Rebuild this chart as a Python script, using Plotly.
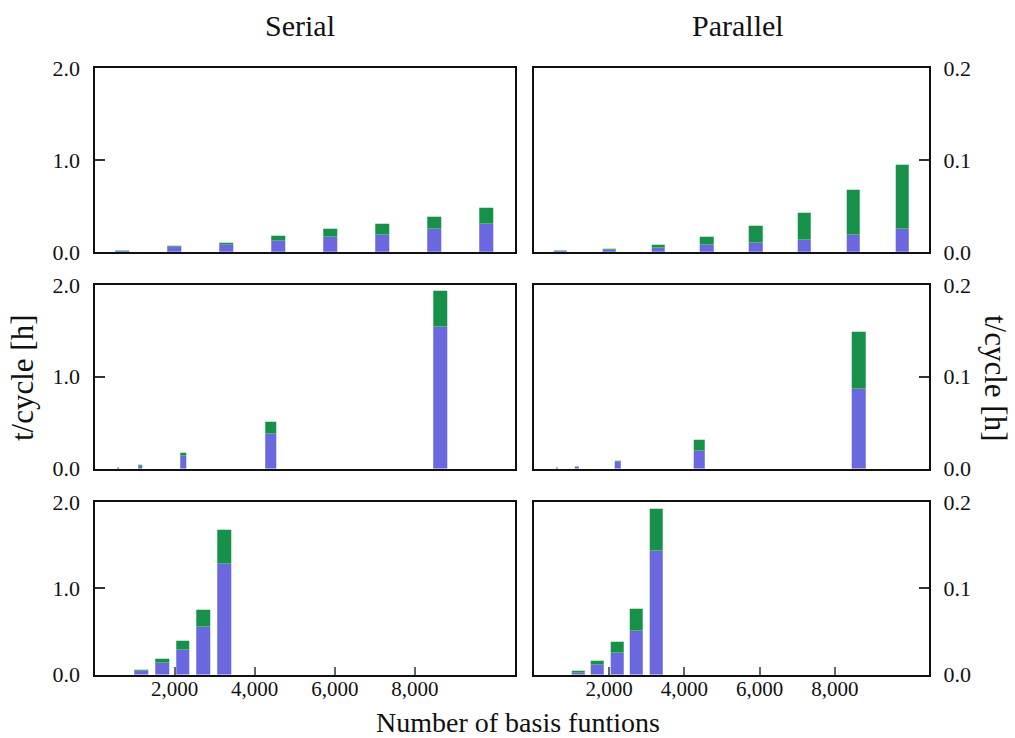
import plotly.graph_objects as go

# ---------------- data ----------------
x_top = [700, 2000, 3300, 4600, 5900, 7200, 8500, 9800]
x_mid = [600, 1150, 2230, 4400, 8640]
w_mid = [55, 95, 155, 280, 350]
x_bot = [1170, 1690, 2210, 2730, 3250]

serial_top_blue = [0.01, 0.05, 0.08, 0.12, 0.16, 0.19, 0.245, 0.30]
serial_top_green = [0.002, 0.015, 0.02, 0.05, 0.085, 0.11, 0.14, 0.18]
parallel_top_blue = [0.0008, 0.0024, 0.0046, 0.0074, 0.0103, 0.0128, 0.018, 0.0245]
parallel_top_green = [0.0002, 0.0011, 0.0028, 0.0084, 0.0177, 0.0292, 0.049, 0.0705]

serial_mid_blue = [0.005, 0.03, 0.131, 0.38, 1.545]
serial_mid_green = [0.001, 0.006, 0.033, 0.13, 0.395]
parallel_mid_blue = [0.0004, 0.0015, 0.0066, 0.0186, 0.0867]
parallel_mid_green = [0.0001, 0.0005, 0.0021, 0.012, 0.062]

serial_bot_blue = [0.038, 0.135, 0.286, 0.55, 1.286]
serial_bot_green = [0.012, 0.039, 0.104, 0.20, 0.384]
parallel_bot_blue = [0.0023, 0.0109, 0.0245, 0.05, 0.1436]
parallel_bot_green = [0.0012, 0.0043, 0.0135, 0.0255, 0.0478]

x_ticks = [2000, 4000, 6000, 8000]
x_ticklabels = ["2,000", "4,000", "6,000", "8,000"]
left_ticks = [0, 1.0, 2.0]
right_ticks = [0, 0.1, 0.2]

BLUE = "#6B68DF"
GREEN = "#17904A"
FONT = "Liberation Serif"

W, H = 1015, 738
def fx(px):
    return px / W
def fy(py):
    return 1 - py / H

col_dom = [[fx(94.5), fx(515)], [fx(534), fx(929)]]
row_dom = [[fy(252), fy(68)], [fy(468.5), fy(285)], [fy(674.5), fy(502)]]

panels = [
    (0, 0, x_top, 350, serial_top_blue, serial_top_green),
    (0, 1, x_top, 350, parallel_top_blue, parallel_top_green),
    (1, 0, x_mid, w_mid, serial_mid_blue, serial_mid_green),
    (1, 1, x_mid, w_mid, parallel_mid_blue, parallel_mid_green),
    (2, 0, x_bot, 345, serial_bot_blue, serial_bot_green),
    (2, 1, x_bot, 345, parallel_bot_blue, parallel_bot_green),
]

fig = go.Figure()
layout = {}
for i, (r, c, xs, w, b, g) in enumerate(panels):
    n = i + 1
    xa = "x" if n == 1 else f"x{n}"
    ya = "y" if n == 1 else f"y{n}"
    xk = "xaxis" if n == 1 else f"xaxis{n}"
    yk = "yaxis" if n == 1 else f"yaxis{n}"
    fig.add_trace(go.Bar(x=xs, y=b, width=w,
                         marker=dict(color=BLUE, line=dict(width=0.6, color="rgba(170,175,245,0.9)")),
                         xaxis=xa, yaxis=ya, showlegend=False))
    fig.add_trace(go.Bar(x=xs, y=g, width=w,
                         marker=dict(color=GREEN, line=dict(width=0.6, color="rgba(140,200,160,0.9)")),
                         xaxis=xa, yaxis=ya, showlegend=False))
    bottom = (r == 2)
    layout[xk] = dict(
        domain=col_dom[c], anchor=ya, range=[0, 10500], automargin=False,
        showline=True, linecolor="#111", linewidth=2, mirror=True,
        showgrid=False, zeroline=False,
        tickmode="array", tickvals=x_ticks if bottom else [],
        ticktext=x_ticklabels if bottom else [],
        ticks="inside" if bottom else "", ticklen=8, tickwidth=1.5, tickcolor="#666",
        showticklabels=bottom, ticklabelstandoff=-6,
        tickfont=dict(family=FONT, size=21, color="#111"),
    )
    common_y = dict(
        domain=row_dom[r], anchor=xa, automargin=False,
        tickmode="array", tickformat=".1f",
        ticks="inside", ticklen=10, tickwidth=2, tickcolor="#333",
        showline=True, linecolor="#111", linewidth=2, mirror=True,
        showgrid=False, zeroline=False, ticklabelstandoff=8,
        tickfont=dict(family=FONT, size=22, color="#111"),
    )
    if c == 0:
        layout[yk] = dict(common_y, range=[0, 2.0], side="left", tickvals=left_ticks)
    else:
        layout[yk] = dict(common_y, range=[0, 0.2], side="right", tickvals=right_ticks)

fig.update_layout(**layout)
fig.update_layout(
    template="none",
    width=W, height=H, autosize=False, margin=dict(l=0, r=0, t=0, b=0, pad=0),
    paper_bgcolor="white", plot_bgcolor="white",
    barmode="stack", bargap=0,
    font=dict(family=FONT, color="#111"),
    annotations=[
        dict(text="Serial", x=fx(300), y=fy(25), xref="paper", yref="paper",
             xanchor="center", yanchor="middle",
             showarrow=False, font=dict(family=FONT, size=30, color="#111")),
        dict(text="Parallel", x=fx(738), y=fy(25), xref="paper", yref="paper",
             xanchor="center", yanchor="middle",
             showarrow=False, font=dict(family=FONT, size=30, color="#111")),
        dict(text="Number of basis funtions", x=fx(518), y=fy(722), xref="paper", yref="paper",
             xanchor="center", yanchor="middle", borderpad=0,
             showarrow=False, font=dict(family=FONT, size=28, color="#111")),
        dict(text="t/cycle [h]", x=fx(22), y=fy(378), xref="paper", yref="paper",
             xanchor="center", yanchor="middle",
             showarrow=False, textangle=-90, font=dict(family=FONT, size=31, color="#111")),
        dict(text="t/cycle [h]", x=fx(996), y=fy(378), xref="paper", yref="paper",
             xanchor="center", yanchor="middle",
             showarrow=False, textangle=90, font=dict(family=FONT, size=31, color="#111")),
    ],
)

fig.write_html("out.html")
